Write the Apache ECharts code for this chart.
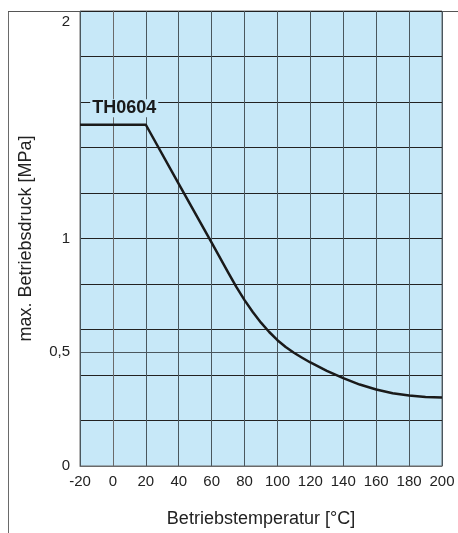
<!DOCTYPE html>
<html>
<head>
<meta charset="utf-8">
<script src="https://cdn.jsdelivr.net/npm/echarts@6/dist/echarts.min.js"></script>
<style>html,body{margin:0;padding:0;background:#fff}#c{width:458px;height:533px}</style>
</head>
<body>
<div id="c"></div>
<script>
const temperatures = [-20, 20, 40, 60, 70, 75, 80, 85, 90, 95, 100, 105, 110, 115, 120, 130, 140, 150, 160, 170, 180, 190, 200];
const pressures = [1.5, 1.5, 1.24, 0.982, 0.851, 0.787, 0.729, 0.677, 0.63, 0.589, 0.553, 0.523, 0.498, 0.476, 0.455, 0.418, 0.386, 0.358, 0.336, 0.32, 0.31, 0.303, 0.301];
const seriesName = 'TH0604';
const xTitle = 'Betriebstemperatur [°C]';
const yTitle = 'max. Betriebsdruck [MPa]';
const yLabels = {0: '0', 0.5: '0,5', 1: '1', 2: '2'};

const font = '"Liberation Sans", Arial, Helvetica, sans-serif';
const bg = '#c7e8f8';
const chart = echarts.init(document.getElementById('c'));
chart.setOption({
  animation: false,
  backgroundColor: '#fff',
  grid: {left: 80, right: 16, top: 11, bottom: 65, show: true, backgroundColor: bg, borderColor: '#6a6a6a', borderWidth: 1},
  xAxis: {
    type: 'value', min: -20, max: 200, interval: 20,
    name: xTitle, nameLocation: 'middle', nameGap: 44,
    nameTextStyle: {fontFamily: font, fontSize: 18, color: '#222'},
    axisLine: {show: true, lineStyle: {color: '#6a6a6a', width: 1}},
    axisTick: {show: false},
    axisLabel: {fontFamily: font, fontSize: 15, color: '#222', margin: 8},
    splitLine: {show: true, lineStyle: {color: '#4a575e', width: 1}}
  },
  yAxis: [{
    type: 'value', min: 0, max: 2, interval: 0.2,
    name: yTitle, nameLocation: 'middle', nameGap: 45,
    nameTextStyle: {fontFamily: font, fontSize: 18, color: '#222'},
    axisLine: {show: true, lineStyle: {color: '#6a6a6a', width: 1}},
    axisTick: {show: false},
    axisLabel: {
      fontFamily: font, fontSize: 15, color: '#222', margin: 10,
      formatter: function (v) {
        const r = Math.round(v * 10) / 10;
        if (r === 2) return '{t|2}';
        return yLabels[r] !== undefined && r !== 0.5 ? yLabels[r] : '';
      },
      rich: {t: {fontFamily: font, fontSize: 15, color: '#222', padding: [22, 0, 0, 0]}}
    },
    splitLine: {show: true, lineStyle: {color: '#222', width: 1}}
  }, {
    type: 'value', min: 0, max: 2, interval: 0.5, position: 'left',
    axisLine: {show: false}, axisTick: {show: false}, splitLine: {show: false},
    axisLabel: {
      fontFamily: font, fontSize: 15, color: '#222', margin: 10,
      formatter: function (v) { return Math.abs(v - 0.5) < 1e-6 ? yLabels[0.5] : ''; }
    }
  }],
  series: [{
    name: seriesName,
    type: 'line',
    data: temperatures.map((t, i) => [t, pressures[i]]),
    symbol: 'none',
    smooth: false,
    lineStyle: {color: '#1a1a1a', width: 2.5, join: 'round'},
    z: 5,
    markLine: {
      silent: true, symbol: 'none', label: {show: false},
      lineStyle: {color: '#4a575e', width: 1, type: 'solid'},
      data: [{yAxis: 0.5}]
    },
    markPoint: {
      symbol: 'rect', symbolSize: 0,
      data: [{coord: [-13.8, 1.572], value: seriesName}],
      label: {
        show: true, position: 'right', distance: 0, formatter: seriesName,
        fontFamily: font, fontSize: 18, fontWeight: 'bold', color: '#1a1a1a',
        backgroundColor: bg, padding: [0, 2]
      }
    }
  }],
  graphic: [
    {type: 'line', silent: true, shape: {x1: 8.5, y1: 11, x2: 8.5, y2: 533}, style: {stroke: '#6a6a6a', lineWidth: 1}},
    {type: 'line', silent: true, shape: {x1: 8, y1: 11.5, x2: 458, y2: 11.5}, style: {stroke: '#555', lineWidth: 1}}
  ]
});
</script>
</body>
</html>
